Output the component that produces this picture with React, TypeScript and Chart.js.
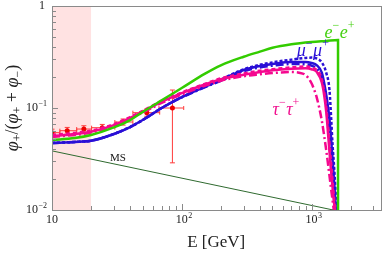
import React, { useEffect, useRef } from 'react';
import { Chart, registerables } from 'chart.js';
Chart.register(...registerables);

const FONT = '"Liberation Serif", "Times New Roman", serif';

// Shaded energy range (GeV)
const shadeRange = [10, 20];

// MS line
const msE = [10, 1470];
const msV = [0.038, 0.01];

// e- e+ (green)
const eeE = [10, 15, 20, 30, 40, 50, 70, 100, 150, 200, 300, 400, 500, 700, 1000, 1300, 1600, 1600];
const eeV = [0.0486, 0.0508, 0.0544, 0.0645, 0.0762, 0.0914, 0.119, 0.157, 0.216, 0.262, 0.318, 0.357, 0.39, 0.422, 0.444, 0.455, 0.464, 0.005];

// mu- mu+ (blue) solid
const mmE = [10, 15, 20, 30, 40, 50, 70, 100, 150, 200, 300, 400, 500, 700, 900, 1000, 1100, 1200, 1280, 1350, 1400, 1450, 1500, 1545];
const mmV = [0.0454, 0.0465, 0.0478, 0.0556, 0.0651, 0.0762, 0.1, 0.128, 0.161, 0.188, 0.236, 0.258, 0.27, 0.282, 0.282, 0.276, 0.262, 0.222, 0.15, 0.095, 0.06, 0.032, 0.017, 0.009];
// blue dotted (outer)
const mmDotE = [10, 15, 20, 30, 40, 50, 70, 100, 150, 200, 300, 400, 500, 700, 900, 1000, 1100, 1200, 1300, 1375, 1420, 1450, 1500, 1565];
const mmDotV = [0.0454, 0.0465, 0.0478, 0.0556, 0.0651, 0.0762, 0.1, 0.128, 0.161, 0.19, 0.24, 0.265, 0.28, 0.298, 0.31, 0.312, 0.305, 0.28, 0.22, 0.15, 0.075, 0.045, 0.024, 0.009];
// blue dash-dot (inner)
const mmDdE = [10, 15, 20, 30, 40, 50, 70, 100, 150, 200, 300, 400, 500, 700, 900, 1000, 1100, 1200, 1300, 1350, 1400, 1450, 1500, 1540];
const mmDdV = [0.0454, 0.0465, 0.0478, 0.0556, 0.0651, 0.0762, 0.1, 0.127, 0.159, 0.185, 0.23, 0.25, 0.26, 0.27, 0.268, 0.26, 0.243, 0.2, 0.12, 0.08, 0.048, 0.027, 0.015, 0.009];

// tau- tau+ (magenta) solid
const ttE = [10, 15, 20, 30, 40, 50, 70, 100, 150, 200, 300, 400, 500, 700, 900, 1000, 1100, 1200, 1250, 1300, 1350, 1400, 1450, 1500, 1535];
const ttV = [0.0531, 0.0556, 0.0586, 0.068, 0.08, 0.092, 0.115, 0.14, 0.17, 0.192, 0.212, 0.225, 0.235, 0.243, 0.245, 0.24, 0.225, 0.178, 0.135, 0.09, 0.05, 0.028, 0.017, 0.011, 0.009];
// magenta dashed
const ttDashE = [10, 15, 20, 30, 40, 50, 70, 100, 150, 200, 300, 400, 500, 700, 900, 1000, 1100, 1200, 1300, 1350, 1400, 1450, 1500, 1540];
const ttDashV = [0.0545, 0.057, 0.06, 0.0695, 0.0815, 0.094, 0.117, 0.142, 0.172, 0.195, 0.218, 0.232, 0.24, 0.25, 0.255, 0.25, 0.235, 0.19, 0.1, 0.06, 0.034, 0.02, 0.012, 0.009];
// magenta dash-dot
const ttDdE = [10, 15, 20, 30, 40, 50, 70, 100, 150, 200, 300, 400, 500, 700, 800, 900, 1000, 1050, 1100, 1200, 1300, 1400, 1500];
const ttDdV = [0.052, 0.0545, 0.0575, 0.067, 0.079, 0.09, 0.112, 0.136, 0.165, 0.185, 0.205, 0.214, 0.22, 0.225, 0.222, 0.21, 0.175, 0.15, 0.125, 0.075, 0.038, 0.018, 0.009];

// measured data points
const dataE = [10, 13.1, 17.6, 24.4, 35.3, 53.8, 84.7];
const dataV = [0.0573, 0.0599, 0.0622, 0.0641, 0.0729, 0.09, 0.1];
const dataELow = [8.8, 11.5, 15.5, 20.2, 30.5, 42, 66.7];
const dataEHigh = [11.5, 15.5, 20.2, 30.5, 42, 67.6, 103.5];
const dataVLow = [0.053, 0.0555, 0.058, 0.0595, 0.068, 0.083, 0.029];
const dataVHigh = [0.062, 0.0645, 0.067, 0.069, 0.078, 0.098, 0.15];

// tick labels (base + exponent)
const xTickValues = [10, 100, 1000];
const xTickBase = ['10', '10', '10'];
const xTickExp = ['', '2', '3'];
const yTickValues = [0.01, 0.1, 1];
const yTickBase = ['10', '10', '1'];
const yTickExp = ['−2', '−1', ''];

// axis titles
const xTitle = 'E [GeV]';
const yTitleParts: [string, number][] = [['φ', 0], ['+', 2], ['/(', 1], ['φ', 0], ['+', 2], [' + ', 1], ['φ', 0], ['−', 2], [')', 1]];

// curve annotations
const annotText: [string, number][][] = [
  [['e', 0], ['−', 1], ['e', 0], ['+', 1]],
  [['μ', 0], ['−', 1], ['μ', 0], ['+', 1]],
  [['τ', 0], ['−', 1], ['τ', 0], ['+', 1]],
  [['MS', 2]],
];
const annotE = [1260, 770, 500, 28];
const annotV = [0.54, 0.36, 0.096, 0.0324];
const annotColor = ['#44d011', '#2a10d8', '#f0108f', '#111'];

const GREEN = '#33cc00';
const BLUE = '#2a0fd6';
const MAGENTA = '#f5088f';

const pts = (xs: number[], ys: number[]) => xs.map((x, i) => ({ x, y: ys[i] }));

export default function App() {
  const ref = useRef<HTMLCanvasElement>(null);
  useEffect(() => {
    document.body.style.margin = '0';
    const canvas = ref.current!;

    const shadePlugin = {
      id: 'shade',
      beforeDatasetsDraw(chart: any) {
        const { ctx, chartArea: a, scales } = chart;
        const x0 = scales.x.getPixelForValue(shadeRange[0]);
        const x1 = scales.x.getPixelForValue(shadeRange[1]);
        ctx.save();
        ctx.fillStyle = '#ffe2e2';
        ctx.fillRect(x0, a.top, x1 - x0, a.bottom - a.top);
        ctx.restore();
      },
    };

    const errPlugin = {
      id: 'errbars',
      beforeDatasetDraw(chart: any, args: any) {
        if (args.index !== chart.data.datasets.length - 1) return;
        const { ctx, scales, chartArea: a } = chart;
        const sx = scales.x, sy = scales.y;
        ctx.save();
        ctx.beginPath();
        ctx.rect(a.left, a.top, a.right - a.left, a.bottom - a.top);
        ctx.clip();
        ctx.strokeStyle = '#ff3b3b';
        ctx.lineWidth = 1;
        for (let i = 0; i < dataE.length; i++) {
          const x = sx.getPixelForValue(dataE[i]);
          const y = sy.getPixelForValue(dataV[i]);
          const xl = sx.getPixelForValue(dataELow[i]);
          const xh = sx.getPixelForValue(dataEHigh[i]);
          const yl = sy.getPixelForValue(dataVLow[i]);
          const yh = sy.getPixelForValue(dataVHigh[i]);
          ctx.beginPath();
          ctx.moveTo(xl, y); ctx.lineTo(xh, y);
          ctx.moveTo(xl, y - 2); ctx.lineTo(xl, y + 2);
          ctx.moveTo(xh, y - 2); ctx.lineTo(xh, y + 2);
          ctx.moveTo(x, yl); ctx.lineTo(x, yh);
          ctx.moveTo(x - 2.5, yl); ctx.lineTo(x + 2.5, yl);
          ctx.moveTo(x - 2.5, yh); ctx.lineTo(x + 2.5, yh);
          ctx.stroke();
        }
        ctx.restore();
      },
    };

    const framePlugin = {
      id: 'frame',
      afterDraw(chart: any) {
        const { ctx, chartArea: a, scales } = chart;
        ctx.save();
        ctx.strokeStyle = '#8a8a8a';
        ctx.lineWidth = 1;
        ctx.beginPath();
        for (const t of scales.x.ticks) {
          const v = t.value;
          const m = v / Math.pow(10, Math.floor(Math.log10(v) + 1e-9));
          if (Math.abs(m - Math.round(m)) > 1e-6) continue;
          const len = Math.abs(m - 1) < 1e-6 ? 6 : 4;
          const px = Math.round(scales.x.getPixelForValue(v)) + 0.5;
          ctx.moveTo(px, a.bottom); ctx.lineTo(px, a.bottom - len);
        }
        for (const t of scales.y.ticks) {
          const v = t.value;
          const m = v / Math.pow(10, Math.floor(Math.log10(v) + 1e-9));
          if (Math.abs(m - Math.round(m)) > 1e-6) continue;
          const len = Math.abs(m - 1) < 1e-6 ? 6 : 4;
          const py = Math.round(scales.y.getPixelForValue(v)) + 0.5;
          ctx.moveTo(a.left, py); ctx.lineTo(a.left + len, py);
        }
        ctx.stroke();
        ctx.strokeRect(Math.round(a.left) + 0.5, Math.round(a.top) + 0.5, Math.round(a.right - a.left), Math.round(a.bottom - a.top));
        ctx.restore();

        // tick labels
        ctx.save();
        ctx.fillStyle = '#222';
        ctx.textBaseline = 'middle';
        for (let i = 0; i < xTickValues.length; i++) {
          const px = scales.x.getPixelForValue(xTickValues[i]);
          ctx.font = `12px ${FONT}`;
          const w = ctx.measureText(xTickBase[i]).width;
          ctx.textAlign = 'left';
          ctx.fillText(xTickBase[i], px - w / 2, a.bottom + 10);
          if (xTickExp[i]) {
            ctx.font = `8px ${FONT}`;
            ctx.fillText(xTickExp[i], px + w / 2 + 0.5, a.bottom + 6);
          }
        }
        for (let i = 0; i < yTickValues.length; i++) {
          const py = scales.y.getPixelForValue(yTickValues[i]);
          const right = a.left - 5;
          ctx.textAlign = 'right';
          if (yTickExp[i]) {
            ctx.font = `8px ${FONT}`;
            const we = ctx.measureText(yTickExp[i]).width;
            ctx.fillText(yTickExp[i], right, py - 4);
            ctx.font = `12px ${FONT}`;
            ctx.fillText(yTickBase[i], right - we - 0.5, py);
          } else {
            ctx.font = `12px ${FONT}`;
            ctx.fillText(yTickBase[i], right - 2, py);
          }
        }
        ctx.restore();

        // y axis title (rotated)
        ctx.save();
        ctx.fillStyle = '#222';
        ctx.textBaseline = 'middle';
        ctx.textAlign = 'left';
        const fontFor = (k: number) => (k === 0 ? `italic 18px ${FONT}` : k === 1 ? `18px ${FONT}` : `12px ${FONT}`);
        let total = 0;
        for (const [t, k] of yTitleParts) { ctx.font = fontFor(k); total += ctx.measureText(t).width; }
        const cy = (a.top + a.bottom) / 2;
        ctx.translate(13, cy);
        ctx.rotate(-Math.PI / 2);
        let xx = -total / 2;
        for (const [t, k] of yTitleParts) {
          ctx.font = fontFor(k);
          ctx.fillText(t, xx, k === 2 ? 5 : 0);
          xx += ctx.measureText(t).width;
        }
        ctx.restore();

        // annotations
        ctx.save();
        ctx.textBaseline = 'middle';
        ctx.textAlign = 'left';
        for (let i = 0; i < annotText.length; i++) {
          let x = scales.x.getPixelForValue(annotE[i]);
          const y = scales.y.getPixelForValue(annotV[i]);
          ctx.fillStyle = annotColor[i];
          for (const [t, kind] of annotText[i]) {
            if (kind === 0) {
              ctx.font = `italic 18px ${FONT}`;
              ctx.fillText(t, x, y);
            } else if (kind === 1) {
              ctx.font = `12px ${FONT}`;
              ctx.fillText(t, x, y - 7);
            } else {
              ctx.font = `11px ${FONT}`;
              ctx.fillText(t, x, y);
            }
            x += ctx.measureText(t).width + (kind === 1 ? 0.5 : 0);
          }
        }
        ctx.restore();
      },
    };

    const line = (data: any, color: string, width: number, dash: number[] = []) => ({
      data,
      showLine: true,
      borderColor: color,
      backgroundColor: color,
      borderWidth: width,
      borderDash: dash,
      pointRadius: 0,
      cubicInterpolationMode: 'monotone' as const,
      borderCapStyle: 'butt' as const,
    });

    const chart = new Chart(canvas, {
      type: 'scatter',
      data: {
        datasets: [
          { ...line(pts(msE, msV), '#2f6a2f', 1), cubicInterpolationMode: 'default' as const, tension: 0 },
          line(pts(eeE, eeV), GREEN, 2.5),
          line(pts(ttDdE, ttDdV), MAGENTA, 2.5, [8, 3, 2, 3]),
          line(pts(ttDashE, ttDashV), MAGENTA, 2.5, [4, 3]),
          line(pts(ttE, ttV), MAGENTA, 2.5),
          line(pts(mmDdE, mmDdV), BLUE, 2.5, [8, 3, 2, 3]),
          line(pts(mmDotE, mmDotV), BLUE, 2.5, [3, 2]),
          line(pts(mmE, mmV), BLUE, 2.5),
          {
            data: pts(dataE, dataV),
            showLine: false,
            pointRadius: 2.5,
            pointBackgroundColor: '#e00',
            pointBorderColor: '#e00',
            pointBorderWidth: 0,
          },
        ],
      },
      options: {
        animation: false,
        responsive: false,
        events: [],
        layout: { autoPadding: false, padding: { top: 6, right: 1.5, bottom: 0, left: 0 } },
        plugins: { legend: { display: false }, tooltip: { enabled: false } },
        scales: {
          x: {
            type: 'logarithmic',
            min: 10,
            max: 3400,
            grid: { display: false },
            border: { display: false },
            ticks: { display: false },
            title: {
              display: true,
              text: xTitle,
              color: '#222',
              font: { family: FONT, size: 17 },
              padding: { top: 0, bottom: 3 },
            },
            afterFit: (s: any) => { s.height = 46; },
          },
          y: {
            type: 'logarithmic',
            min: 0.01,
            max: 1,
            grid: { display: false },
            border: { display: false },
            ticks: { display: false },
            title: { display: false },
            afterFit: (s: any) => { s.width = 52; },
          },
        },
      },
      plugins: [shadePlugin, errPlugin, framePlugin],
    });
    return () => chart.destroy();
  }, []);
  return (
    <div style={{ width: 382, height: 256 }}>
      <canvas ref={ref} width={382} height={256} style={{ display: 'block' }} />
    </div>
  );
}
